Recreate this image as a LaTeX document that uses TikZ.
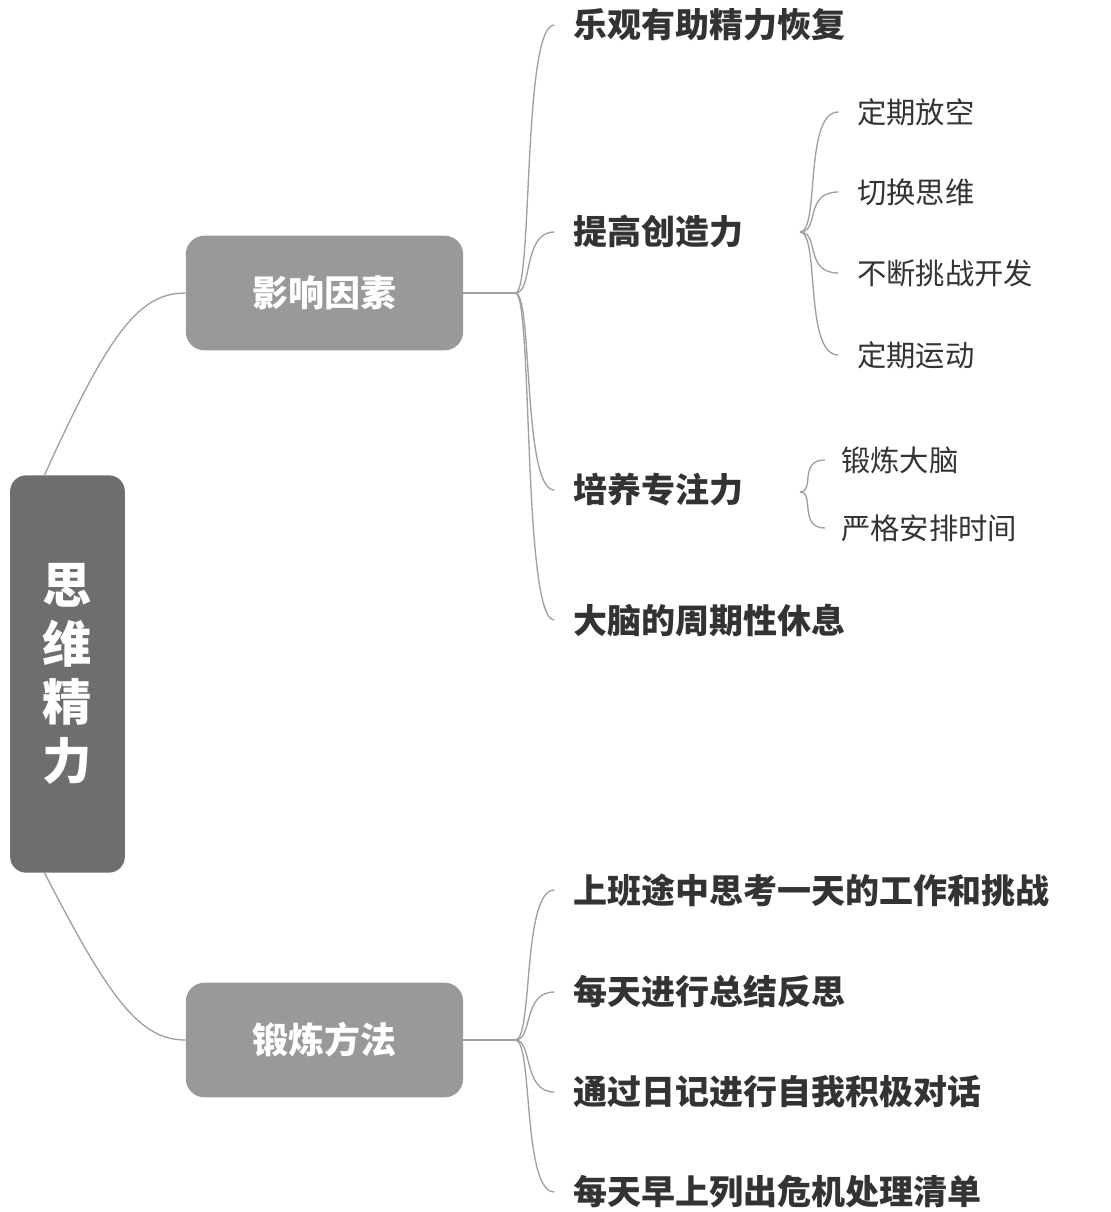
\documentclass[tikz,border=0pt]{standalone}
\usepackage{fontspec}
\setmainfont{Noto Sans CJK SC}
\newfontfamily\cjkbold{Noto Sans CJK SC}[BoldFont={Noto Sans CJK SC Bold}]
\definecolor{rootgray}{RGB}{110,110,110}
\definecolor{boxgray}{RGB}{153,153,153}
\definecolor{txtgray}{RGB}{51,51,51}
\definecolor{linegray}{RGB}{160,160,160}
\tikzset{
  rootbox/.style={fill=rootgray,rounded corners=12pt,text=white,font=\fontsize{37}{44}\selectfont\bfseries,minimum width=86pt,minimum height=298pt,align=center},
  mainbox/.style={fill=boxgray,rounded corners=14pt,text=white,font=\fontsize{27}{32}\selectfont\bfseries,minimum width=208pt,minimum height=86pt},
  topic/.style={anchor=west,inner sep=0pt,text=txtgray,font=\fontsize{25.5}{30}\selectfont\bfseries},
  subtopic/.style={anchor=west,inner sep=0pt,text=txtgray,font=\fontsize{22}{26}\selectfont},
  link/.style={draw=linegray,line width=1pt}
}
\begin{document}
\begin{tikzpicture}[x=0.75pt,y=0.75pt,yscale=-1,xscale=1]
\useasboundingbox (0,0) rectangle (1110,1212);

% Root
\node[rootbox] (root) at (67.5,674) {思\\维\\精\\力};
% Main branches
\node[mainbox] (fac) at (324.5,293) {影响因素};
\node[mainbox] (way) at (324.5,1040) {锻炼方法};
\draw[link] ([xshift=26]root.north west) .. controls (110,330) and (140,293) .. (fac.west);
\draw[link] ([xshift=26]root.south west) .. controls (110,1000) and (140,1040) .. (way.west);

% Factors
\node[topic] (f1) at (573,25) {乐观有助精力恢复};
\node[topic] (f2) at (573,232) {提高创造力};
\node[topic] (f3) at (573,490) {培养专注力};
\node[topic] (f4) at (573,620) {大脑的周期性休息};
\draw[link] (fac.east) -- ++(52,0) coordinate (fj);
\foreach \c in {f1,f2,f3,f4}
  \draw[link] (fj) .. controls ([xshift=-30]\c.west |- fj) and ([xshift=-38]\c.west) .. ([xshift=-14]\c.west);

% Creativity
\node[subtopic] (c1) at (857,112) {定期放空};
\node[subtopic] (c2) at (857,192) {切换思维};
\node[subtopic] (c3) at (857,273) {不断挑战开发};
\node[subtopic] (c4) at (857,355) {定期运动};
\coordinate (cj) at (800,232);
\foreach \c in {c1,c2,c3,c4}
  \draw[link] (cj) .. controls (820,232) and ([xshift=-40]\c.west) .. ([xshift=-14]\c.west);

% Focus
\node[subtopic] (d1) at (841,460) {锻炼大脑};
\node[subtopic] (d2) at (841,528) {严格安排时间};
\coordinate (dj) at (800,492);
\foreach \c in {d1,d2}
  \draw[link] (dj) .. controls (815,492) and ([xshift=-32]\c.west) .. ([xshift=-12]\c.west);

% Methods
\node[topic] (m1) at (573,890) {上班途中思考一天的工作和挑战};
\node[topic] (m2) at (573,992) {每天进行总结反思};
\node[topic] (m3) at (573,1092) {通过日记进行自我积极对话};
\node[topic] (m4) at (573,1192) {每天早上列出危机处理清单};
\draw[link] (way.east) -- ++(52,0) coordinate (mj);
\foreach \c in {m1,m2,m3,m4}
  \draw[link] (mj) .. controls ([xshift=-30]\c.west |- mj) and ([xshift=-38]\c.west) .. ([xshift=-14]\c.west);
\end{tikzpicture}
\end{document}
